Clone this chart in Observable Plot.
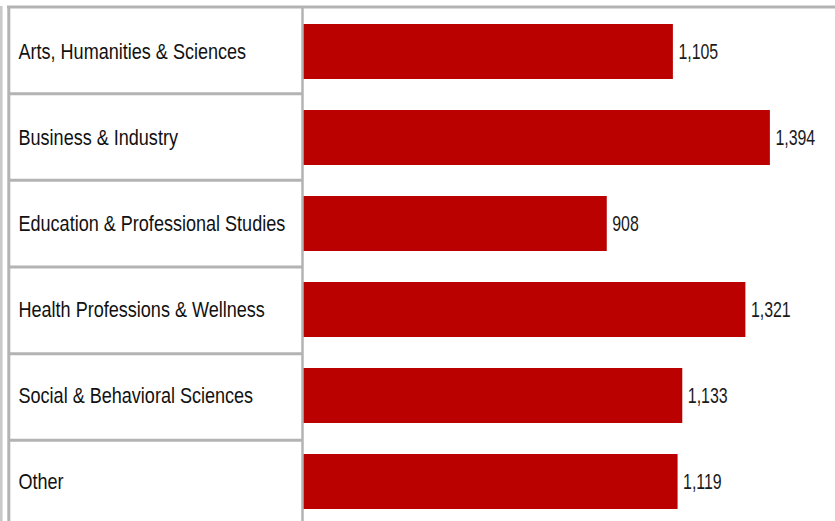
<!DOCTYPE html>
<html><head><meta charset="utf-8">
<script src="https://cdn.jsdelivr.net/npm/d3@7"></script>
<script src="https://cdn.jsdelivr.net/npm/@observablehq/plot@0.6"></script>
<style>
body{margin:0;background:#fff;}
#chart svg{display:block;}
</style></head><body><div id="chart"></div>
<script>
const categories = [
  "Arts, Humanities & Sciences",
  "Business & Industry",
  "Education & Professional Studies",
  "Health Professions & Wellness",
  "Social & Behavioral Sciences",
  "Other"
];
const values = [1105, 1394, 908, 1321, 1133, 1119];
const data = categories.map((c, i) => ({category: c, value: values[i]}));

const font = "'Liberation Sans', Arial, sans-serif";
const chart = Plot.plot({
  width: 835, height: 521,
  marginLeft: 302, marginRight: 0, marginTop: 7, marginBottom: 0,
  style: {background: "#fff", overflow: "hidden"},
  x: {domain: [0, 1588], axis: null},
  y: {domain: categories, range: [7, 527], paddingInner: 0.36, paddingOuter: 0.18, axis: null},
  marks: [
    Plot.barX(data, {y: "category", x: "value", fill: "#bb0000"}),
    Plot.text(data, {y: "category", x: "value", text: d => d3.format(",")(d.value),
      textAnchor: "start", dx: 5, fontSize: 21.5, fill: "#1a1a1a", fontFamily: font, className: "vals"}),
    Plot.text(data, {y: "category", text: "category", frameAnchor: "left", dx: -284,
      textAnchor: "start", fontSize: 22, fill: "#111", fontFamily: font, className: "labs"})
  ]
});
document.getElementById("chart").appendChild(chart);

// condense glyphs horizontally (narrow typeface look)
function condense(sel, k) {
  d3.select(chart).selectAll(sel + " text").each(function() {
    const w = this.getComputedTextLength();
    this.setAttribute("textLength", w * k);
    this.setAttribute("lengthAdjust", "spacingAndGlyphs");
  });
}
condense(".vals", 0.74);
condense(".labs", 0.82);

// Cell borders drawn from the plot's own y scale
const ys = chart.scale("y");
const band = d3.scaleBand().domain(ys.domain).range(ys.range)
  .paddingInner(ys.paddingInner).paddingOuter(ys.paddingOuter).align(ys.align ?? 0.5);
const gap = band.step() - band.bandwidth();
const bounds = ys.domain.map(c => band(c) - gap / 2);
const x0 = chart.scale("x").range[0];
const svg = d3.select(chart);
const g = svg.append("g").attr("stroke", "#b3b3b3");
bounds.forEach((yb, i) => {
  g.append("line").attr("x1", i === 0 ? 7 : 8).attr("x2", i === 0 ? 835 : x0 + 1)
    .attr("y1", yb).attr("y2", yb).attr("stroke-width", 3);
});
g.append("line").attr("x1", x0 + 0.5).attr("x2", x0 + 0.5).attr("y1", bounds[0]).attr("y2", 521).attr("stroke-width", 2.5);
g.append("line").attr("x1", 8.8).attr("x2", 8.8).attr("y1", bounds[0]).attr("y2", 521).attr("stroke-width", 3);
g.append("line").attr("x1", 1.3).attr("x2", 1.3).attr("y1", bounds[0] - 1).attr("y2", 521).attr("stroke-width", 2.5).attr("stroke", "#c8c8c8");
</script>
</body></html>
